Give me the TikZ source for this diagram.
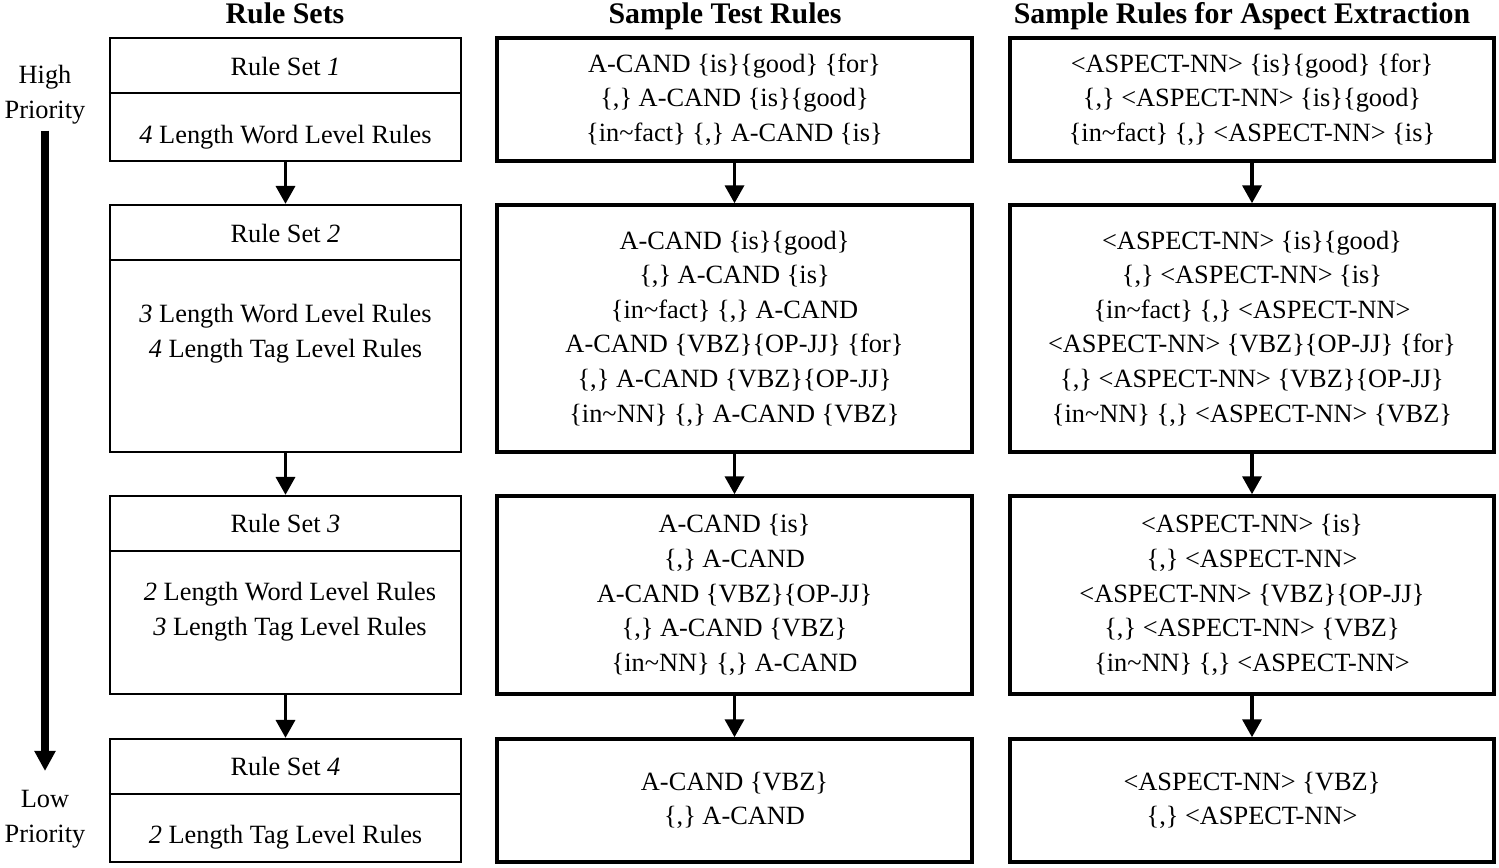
\documentclass[tikz,border=0pt]{standalone}
\usepackage{fontspec}
\setmainfont{Liberation Serif}
\usetikzlibrary{arrows.meta}

\begin{document}
\begin{tikzpicture}[setbox/.style={rectangle,draw,line width=1.3pt, minimum width=7.02cm},
  rulebox/.style={rectangle,draw,line width=2pt,align=center,font=\fontsize{15}{19.7}\selectfont},
  txt/.style={align=center,font=\fontsize{15}{19.7}\selectfont},
  head/.style={anchor=base,font=\fontsize{17}{20}\selectfont\bfseries},
  flow/.style={-{Triangle[width=10.8pt,length=10.2pt]},line width=2pt},
  prio/.style={-{Triangle[width=11.4pt,length=11.4pt]},line width=4pt}]
\useasboundingbox (0,0) rectangle (29.98,-17.34);

% column headings
\node[head] (h1) at (5.7,-0.46) {Rule Sets};
\node[head] (h2) at (14.5,-0.46) {Sample Test Rules};
\node[head] (h3) at (24.84,-0.46) {Sample Rules for Aspect Extraction};

% priority axis
\node[txt] (high) at (0.9,-1.9) {High\\Priority};
\node[txt] (low) at (0.9,-16.38) {Low\\Priority};
\draw[prio, shorten >=0.26cm] (high.south) -- (low.north);

% rule sets
\node[setbox, minimum height=2.46cm] (rs1) at (5.71,-1.99) {};
\node[setbox, minimum height=4.94cm] (rs2) at (5.71,-6.57) {};
\node[setbox, minimum height=3.96cm] (rs3) at (5.71,-11.9) {};
\node[setbox, minimum height=2.46cm] (rs4) at (5.71,-16.01) {};
\foreach \r in {rs1,rs2,rs3,rs4}
  \draw[line width=1.3pt] ([yshift=-1.12cm]\r.north west) -- ([yshift=-1.12cm]\r.north east);

\node[txt,anchor=base] (rs1t) at (5.71,-1.5) {Rule Set \textit{1}};
\node[txt,anchor=base] (rs1b) at (5.71,-2.86) {\textit{4} Length Word Level Rules};
\node[txt,anchor=base] (rs2t) at (5.71,-4.84) {Rule Set \textit{2}};
\node[txt] (rs2b) at (5.71,-6.67) {\textit{3} Length Word Level Rules\\\textit{4} Length Tag Level Rules};
\node[txt,anchor=base] (rs3t) at (5.71,-10.64) {Rule Set \textit{3}};
\node[txt] (rs3b) at (5.8,-12.23) {\textit{2} Length Word Level Rules\\\textit{3} Length Tag Level Rules};
\node[txt,anchor=base] (rs4t) at (5.71,-15.5) {Rule Set \textit{4}};
\node[txt,anchor=base] (rs4b) at (5.71,-16.86) {\textit{2} Length Tag Level Rules};

% sample test rules
\node[rulebox, minimum width=9.5cm, minimum height=2.46cm] (test1) at (14.69,-1.99)
  {A-CAND \{is\}\{good\} \{for\}\\\{,\} A-CAND \{is\}\{good\}\\\{in\textasciitilde fact\} \{,\} A-CAND \{is\}};
\node[rulebox, minimum width=9.5cm, minimum height=4.94cm] (test2) at (14.69,-6.57)
  {A-CAND \{is\}\{good\}\\\{,\} A-CAND \{is\}\\\{in\textasciitilde fact\} \{,\} A-CAND\\
   A-CAND \{VBZ\}\{OP-JJ\} \{for\}\\\{,\} A-CAND \{VBZ\}\{OP-JJ\}\\\{in\textasciitilde NN\} \{,\} A-CAND \{VBZ\}};
\node[rulebox, minimum width=9.5cm, minimum height=3.96cm] (test3) at (14.69,-11.9)
  {A-CAND \{is\}\\\{,\} A-CAND\\A-CAND \{VBZ\}\{OP-JJ\}\\\{,\} A-CAND \{VBZ\}\\\{in\textasciitilde NN\} \{,\} A-CAND};
\node[rulebox, minimum width=9.5cm, minimum height=2.46cm] (test4) at (14.69,-16.01)
  {A-CAND \{VBZ\}\\\{,\} A-CAND};

% aspect extraction rules
\node[rulebox, minimum width=9.68cm, minimum height=2.46cm] (asp1) at (25.04,-1.99)
  {\textless ASPECT-NN\textgreater{} \{is\}\{good\} \{for\}\\\{,\} \textless ASPECT-NN\textgreater{} \{is\}\{good\}\\
   \{in\textasciitilde fact\} \{,\} \textless ASPECT-NN\textgreater{} \{is\}};
\node[rulebox, minimum width=9.68cm, minimum height=4.94cm] (asp2) at (25.04,-6.57)
  {\textless ASPECT-NN\textgreater{} \{is\}\{good\}\\\{,\} \textless ASPECT-NN\textgreater{} \{is\}\\
   \{in\textasciitilde fact\} \{,\} \textless ASPECT-NN\textgreater\\
   \textless ASPECT-NN\textgreater{} \{VBZ\}\{OP-JJ\} \{for\}\\\{,\} \textless ASPECT-NN\textgreater{} \{VBZ\}\{OP-JJ\}\\
   \{in\textasciitilde NN\} \{,\} \textless ASPECT-NN\textgreater{} \{VBZ\}};
\node[rulebox, minimum width=9.68cm, minimum height=3.96cm] (asp3) at (25.04,-11.9)
  {\textless ASPECT-NN\textgreater{} \{is\}\\\{,\} \textless ASPECT-NN\textgreater\\
   \textless ASPECT-NN\textgreater{} \{VBZ\}\{OP-JJ\}\\\{,\} \textless ASPECT-NN\textgreater{} \{VBZ\}\\
   \{in\textasciitilde NN\} \{,\} \textless ASPECT-NN\textgreater};
\node[rulebox, minimum width=9.68cm, minimum height=2.46cm] (asp4) at (25.04,-16.01)
  {\textless ASPECT-NN\textgreater{} \{VBZ\}\\\{,\} \textless ASPECT-NN\textgreater};

% arrows
\foreach \a/\b in {rs1/rs2,rs2/rs3,rs3/rs4,test1/test2,test2/test3,test3/test4,asp1/asp2,asp2/asp3,asp3/asp4}
  \draw[flow] (\a.south) -- (\b.north);

\end{tikzpicture}
\end{document}
